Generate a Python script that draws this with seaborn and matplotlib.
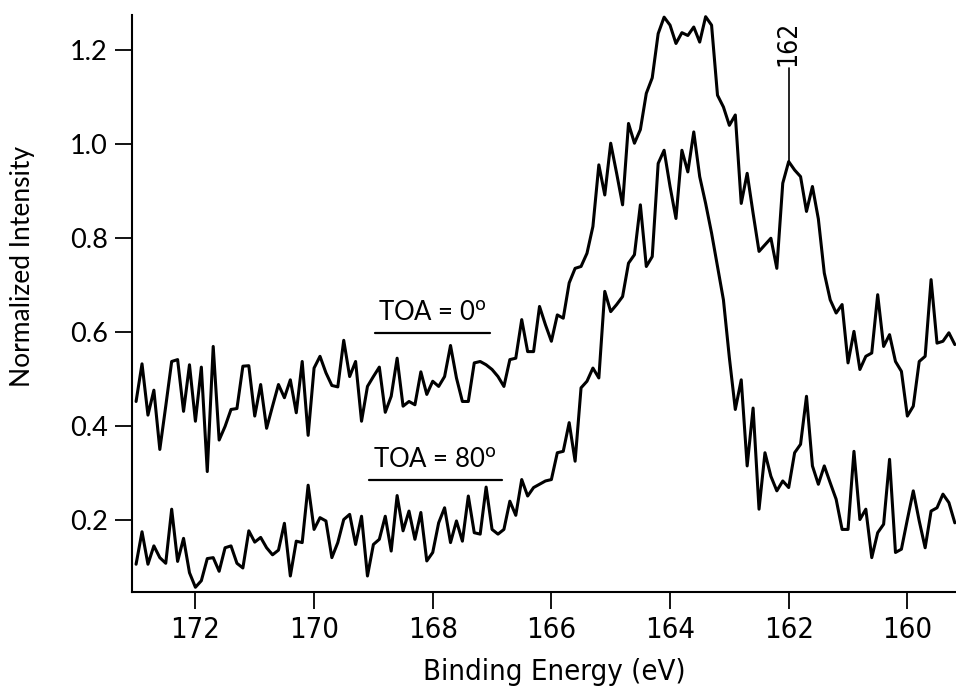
import numpy as np
import pandas as pd
import matplotlib
matplotlib.use("Agg")
import matplotlib.pyplot as plt
from matplotlib import font_manager
from matplotlib.font_manager import FontProperties
import seaborn as sns

# Binding energy grid (eV), 0.1 eV steps from 173.0 down to 159.2
energy_start = 173.0
energy_step = 0.1

toa0 = [
    0.452, 0.532, 0.423, 0.476, 0.350, 0.442, 0.537, 0.541, 0.431, 0.530,
    0.410, 0.525, 0.303, 0.569, 0.370, 0.399, 0.435, 0.437, 0.527, 0.528,
    0.421, 0.488, 0.395, 0.442, 0.488, 0.460, 0.498, 0.428, 0.537, 0.380,
    0.523, 0.548, 0.513, 0.486, 0.483, 0.582, 0.505, 0.537, 0.410, 0.484,
    0.505, 0.525, 0.429, 0.463, 0.544, 0.442, 0.452, 0.445, 0.515, 0.467,
    0.495, 0.484, 0.505, 0.571, 0.502, 0.452, 0.452, 0.534, 0.537, 0.530,
    0.520, 0.505, 0.484, 0.541, 0.544, 0.626, 0.558, 0.558, 0.654, 0.615,
    0.580, 0.636, 0.629, 0.704, 0.735, 0.739, 0.767, 0.824, 0.955, 0.891,
    1.001, 0.937, 0.870, 1.043, 1.001, 1.030, 1.107, 1.140, 1.234, 1.269,
    1.252, 1.213, 1.236, 1.230, 1.248, 1.216, 1.270, 1.252, 1.103, 1.078,
    1.039, 1.061, 0.873, 0.937, 0.852, 0.771, 0.785, 0.799, 0.735, 0.916,
    0.962, 0.944, 0.930, 0.856, 0.909, 0.840, 0.725, 0.668, 0.640, 0.658,
    0.534, 0.601, 0.520, 0.548, 0.555, 0.679, 0.569, 0.594, 0.537, 0.516,
    0.421, 0.442, 0.537, 0.548, 0.711, 0.576, 0.580, 0.598, 0.573,
]

toa80 = [
    0.106, 0.175, 0.106, 0.145, 0.120, 0.108, 0.223, 0.112, 0.161, 0.088,
    0.057, 0.071, 0.118, 0.120, 0.091, 0.141, 0.145, 0.108, 0.098, 0.177,
    0.153, 0.163, 0.141, 0.126, 0.136, 0.193, 0.081, 0.155, 0.152, 0.274,
    0.180, 0.205, 0.198, 0.120, 0.152, 0.201, 0.212, 0.148, 0.208, 0.081,
    0.148, 0.159, 0.208, 0.134, 0.252, 0.177, 0.219, 0.159, 0.216, 0.113,
    0.131, 0.194, 0.226, 0.152, 0.198, 0.155, 0.251, 0.173, 0.170, 0.270,
    0.180, 0.170, 0.180, 0.240, 0.210, 0.286, 0.251, 0.269, 0.276, 0.283,
    0.286, 0.343, 0.346, 0.407, 0.325, 0.481, 0.495, 0.523, 0.502, 0.686,
    0.643, 0.658, 0.675, 0.746, 0.764, 0.870, 0.739, 0.760, 0.958, 0.986,
    0.909, 0.841, 0.986, 0.940, 1.025, 0.930, 0.873, 0.810, 0.739, 0.668,
    0.545, 0.435, 0.498, 0.315, 0.438, 0.223, 0.343, 0.293, 0.262, 0.283,
    0.269, 0.343, 0.361, 0.463, 0.315, 0.276, 0.315, 0.279, 0.244, 0.180,
    0.180, 0.346, 0.201, 0.223, 0.120, 0.173, 0.191, 0.329, 0.131, 0.138,
    0.201, 0.262, 0.198, 0.141, 0.219, 0.226, 0.255, 0.237, 0.194,
]

series_labels = ["TOA = 0$^{\\mathrm{o}}$", "TOA = 80$^{\\mathrm{o}}$"]
x_ticks = [172, 170, 168, 166, 164, 162, 160]
y_ticks = [0.2, 0.4, 0.6, 0.8, 1.0, 1.2]
peak_label = "162"
peak_energy = 162.0
peak_value = 0.962

energy = np.round(energy_start - energy_step * np.arange(len(toa0)), 2)

df = pd.concat([
    pd.DataFrame({"energy": energy, "intensity": toa0, "series": "toa0"}),
    pd.DataFrame({"energy": energy, "intensity": toa80, "series": "toa80"}),
])

sns.set_theme(style="ticks")
plt.rcParams["font.family"] = ["Lato", "DejaVu Sans"]
plt.rcParams["mathtext.default"] = "regular"

# pick a condensed face if one is installed (for the x-axis texts)
cond_file = None
for f in font_manager.fontManager.ttflist:
    fn = f.fname.lower()
    if ("condensed" in fn or "narrow" in fn) and "bold" not in fn \
            and "italic" not in fn and "oblique" not in fn and "light" not in fn:
        cond_file = f.fname
        if "liberation" in fn or "dejavusans" in fn:
            break
if cond_file:
    def cond_fp(size):
        return FontProperties(fname=cond_file, size=size)
else:
    def cond_fp(size):
        return FontProperties(family="Liberation Sans", size=size)

fig = plt.figure(figsize=(9.56, 6.94), dpi=100)
ax = fig.add_axes([0.138, 0.147, 0.862, 0.831])

sns.lineplot(data=df, x="energy", y="intensity", hue="series",
             palette={"toa0": "black", "toa80": "black"},
             estimator=None, sort=False, linewidth=2.2, legend=False, ax=ax)

ax.set_xlim(173.07, 159.18)
ax.set_ylim(0.047, 1.273)
ax.set_xticks(x_ticks)
ax.set_xticklabels([str(t) for t in x_ticks], fontproperties=cond_fp(21))
ax.set_yticks(y_ticks)
ax.set_yticklabels([f"{t:.1f}" for t in y_ticks])

for s in ["top", "right"]:
    ax.spines[s].set_visible(False)
for s in ["left", "bottom"]:
    ax.spines[s].set_linewidth(1.5)
    ax.spines[s].set_color("black")

ax.tick_params(axis="both", direction="out", length=12.5, width=1.3,
               colors="black", pad=5)
ax.tick_params(axis="y", labelsize=19.5)

ax.set_xlabel("Binding Energy (eV)", labelpad=14, color="black",
              fontproperties=cond_fp(21))
ax.xaxis.set_label_coords(0.513, -0.115)
ax.set_ylabel("Normalized Intensity", fontsize=19, labelpad=10, color="black")
ax.yaxis.set_label_coords(-0.118, 0.565)

# Labels with underlines
ax.plot([168.98, 167.03], [0.598, 0.598], color="black", lw=1.6)
ax.text(168.0, 0.612, series_labels[0], ha="center", va="bottom",
        fontsize=18.5, color="black")
ax.plot([169.08, 166.84], [0.286, 0.286], color="black", lw=1.6)
ax.text(167.96, 0.300, series_labels[1], ha="center", va="bottom",
        fontsize=18.5, color="black")

# Peak marker
ax.plot([peak_energy, peak_energy], [peak_value, 1.16], color="black", lw=1.2)
ax.text(peak_energy, 1.165, peak_label, rotation=90, ha="center", va="bottom",
        color="black", fontproperties=cond_fp(19))

fig.savefig("out.png", dpi=100)
